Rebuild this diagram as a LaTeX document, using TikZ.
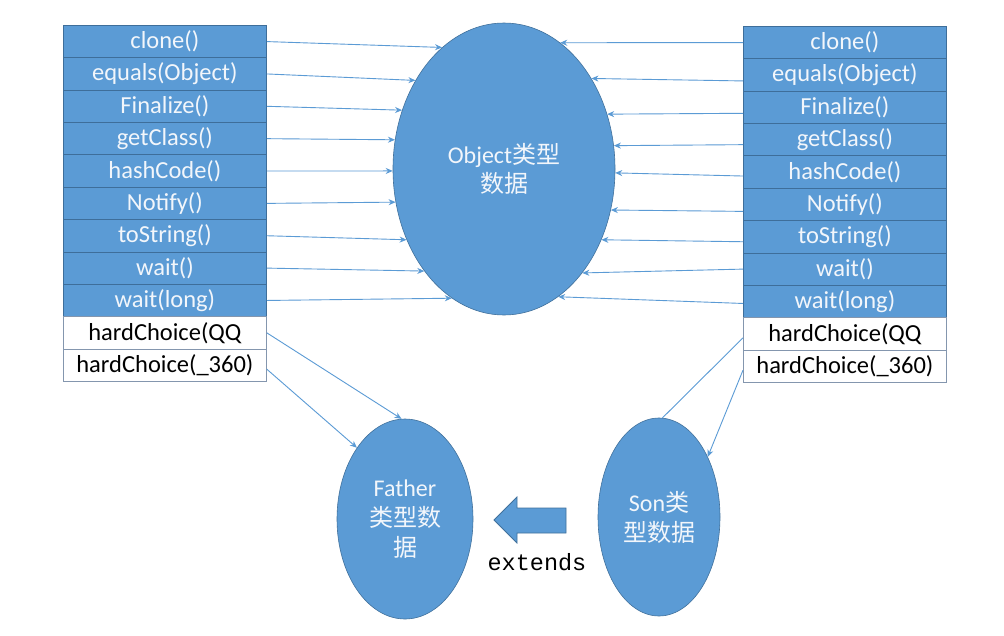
\documentclass[tikz,border=0pt]{standalone}
\usepackage{fontspec}
\setmainfont{Carlito}
\newfontfamily\cjk{Noto Sans CJK SC}
\newfontfamily\monof{Liberation Mono}
\usetikzlibrary{shapes.geometric,arrows.meta}
\definecolor{obl}{HTML}{5B9BD5}
\definecolor{obd}{HTML}{41719C}
\definecolor{cellb}{HTML}{3E6E9A}
\definecolor{wcb}{HTML}{8496AE}
\definecolor{txtw}{HTML}{F2F6FB}
\tikzset{
  bcell/.style={rectangle, draw=cellb, line width=0.8pt, fill=obl, anchor=north west,
    minimum width=203pt, minimum height=32.36pt, inner sep=0pt, text=txtw,
    font=\fontsize{24.5}{24.5}\selectfont},
  wcell/.style={bcell, fill=white, draw=wcb, text=black},
  blob/.style={ellipse, draw=obd, line width=0.6pt, fill=obl, inner sep=0pt, text=txtw,
    align=center, font=\fontsize{24}{30}\selectfont},
  conn/.style={draw=obl, line width=0.9pt, -{Stealth[length=7pt,width=6pt]}},
  plain/.style={draw=obl, line width=0.9pt}
}
\begin{document}
\begin{tikzpicture}[x=1pt,y=-1pt]
\useasboundingbox[fill=white] (0,0) rectangle (1004,635);
% tables
\foreach \t [count=\i] in {clone(),equals(Object),Finalize(),getClass(),hashCode(),Notify(),toString(),wait(),wait(long)} {
  \node[bcell] (l\i) at (63,{25+(\i-1)*32.36}) {\t};
  \node[bcell] (r\i) at (743,{26+(\i-1)*32.36}) {\t};
}
\node[wcell] (l10) at (63,{25+9*32.36}) {hardChoice(QQ};
\node[wcell] (l11) at (63,{25+10*32.36}) {hardChoice(\_360)};
\node[wcell] (r10) at (743,{26+9*32.36}) {hardChoice(QQ};
\node[wcell] (r11) at (743,{26+10*32.36}) {hardChoice(\_360)};
% ellipses
\node[blob, minimum width=222pt, minimum height=292pt] (obj) at (504,169) {Object{\cjk 类型}\\[-1pt]{\cjk 数据}};
\node[blob, minimum width=136pt, minimum height=200pt] (fa) at (405,519) {Father\\{\cjk 类型数}\\{\cjk 据}};
\node[blob, minimum width=122pt, minimum height=198pt] (son) at (659,517) {Son{\cjk 类}\\{\cjk 型数据}};
% arrows left
\foreach \i/\a in {1/117,2/135,3/150,4/165,5/181,6/197,7/216,8/232,9/248}
  \draw[conn] (l\i.east) -- (obj.\a);
% arrows right
\foreach \i/\s/\a in {1/0/66,2/6/46,3/6/28,4/5/12,5/4/358,6/7/339,7/5/324,8/0/307,9/2/293}
  \draw[conn] ([yshift=-\s pt]r\i.west) -- (obj.\a);
% lower connectors
\draw[conn] (l10.east) -- (fa.92);
\draw[conn] ([yshift=-4pt]l11.east) -- (fa.124);
\draw[plain] ([yshift=-4pt]r10.west) -- (son.88);
\draw[conn] ([yshift=-4pt]r11.west) -- (son.51);
% extends block arrow
\draw[fill=obl, draw=obd, line width=0.8pt] (494,520) -- (517,497) -- (517,508) -- (566,508) -- (566,533) -- (517,533) -- (517,543) -- cycle;
\node[font=\monof\fontsize{23.5}{23.5}\selectfont, inner sep=0pt] (ext) at (537,562) {extends};
\end{tikzpicture}
\end{document}
